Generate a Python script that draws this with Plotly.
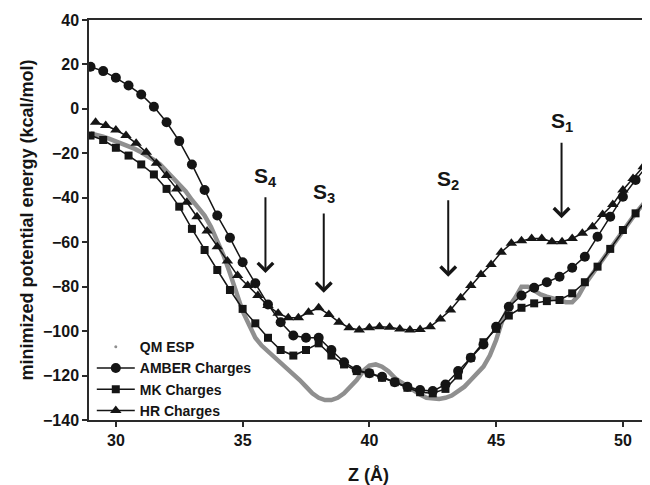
import plotly.graph_objects as go

# ---------------- data ----------------
z_amber = [29 + 0.5 * i for i in range(45)]
amber = [19, 17, 14, 10.5, 6.5, 1, -6, -14.5, -25, -36.5, -48, -58, -69, -78.5, -88,
         -96, -102, -103, -103, -108.5, -114, -117.5, -119, -120.5, -123, -125, -126.5,
         -127, -124, -118, -112, -106, -98, -89, -84, -80.5, -78, -75.5, -71.5, -66.5,
         -57.5, -48.5, -39.5, -32, -25]

z_mk = [29 + 0.5 * i for i in range(45)]
mk = [-12, -14, -17.5, -21, -25, -29.5, -36, -44, -54, -63.5, -72.5, -81.5, -90, -96.5,
      -103, -108.5, -111, -108.5, -105.5, -111, -115, -118, -119, -121, -123, -125.5,
      -127.5, -128, -126, -120, -112, -105, -99, -93, -89.5, -87.5, -86.5, -86, -83,
      -78, -71, -63, -54.5, -47, -40]

z_hr = [round(29.2 + 0.4 * i, 2) for i in range(55)]
hr = [-6, -7.5, -9.5, -12, -15.5, -19.5, -24.5, -30, -36, -42, -48.5, -55, -62, -68.5,
      -75, -79.5, -84, -88.5, -92, -94, -94, -91.5, -89.5, -92.5, -96, -98.5, -99.5,
      -98.5, -98, -98.3, -99, -99.5, -99.3, -98, -94.5, -90.5, -85, -79.5, -74.5, -70,
      -64.5, -60.5, -59.3, -58.3, -58.3, -59.8, -59.8, -58.3, -56, -53, -47.5, -43,
      -36.5, -31.3, -26]

z_qm = [29 + 0.25 * i for i in range(89)]
qm = [-11, -11.5, -12.5, -13.5, -14.5, -15.5, -16.5, -18, -19.5, -21, -23, -25, -28,
      -31, -34, -37, -41, -44.5, -48, -53, -59, -66, -74, -82, -91, -97, -103, -106.5,
      -109, -112, -114.5, -117, -119.5, -122, -125, -128, -130, -131, -131, -130, -128,
      -125, -122, -118, -115.5, -115, -116, -118, -121, -123, -125, -127, -128.5, -130,
      -130.5, -130.5, -130, -129, -127, -125, -122, -119, -116, -111, -104, -95, -89,
      -85, -80, -80, -82, -83.5, -84.5, -85.5, -86.5, -87, -87, -84, -79, -75, -71, -67,
      -63, -58.5, -54.5, -51, -47, -43.5, -40]

series_names = ["QM ESP", "AMBER Charges", "MK Charges", "HR Charges"]
site_labels = ["S<sub>1</sub>", "S<sub>2</sub>", "S<sub>3</sub>", "S<sub>4</sub>"]
x_ticks = [30, 35, 40, 45, 50]
y_ticks = [-140, -120, -100, -80, -60, -40, -20, 0, 20, 40]

# ---------------- figure ----------------
FONT = "Arial, Liberation Sans, sans-serif"
BLACK = "#151515"
GRAY = "#8f8f8f"

fig = go.Figure()

fig.add_trace(go.Scatter(x=z_qm, y=qm, mode="lines", showlegend=False,
                         line=dict(color=GRAY, width=4.5), hoverinfo="skip"))
fig.add_trace(go.Scatter(x=[None], y=[None], mode="markers", name=series_names[0],
                         marker=dict(color=GRAY, size=3, symbol="circle")))
fig.add_trace(go.Scatter(x=z_amber, y=amber, mode="lines+markers", name=series_names[1],
                         line=dict(color=BLACK, width=1.5),
                         marker=dict(color=BLACK, size=10, symbol="circle")))
fig.add_trace(go.Scatter(x=z_mk, y=mk, mode="lines+markers", name=series_names[2],
                         line=dict(color=BLACK, width=1.5),
                         marker=dict(color=BLACK, size=8, symbol="square")))
fig.add_trace(go.Scatter(x=z_hr, y=hr, mode="lines+markers", name=series_names[3],
                         line=dict(color=BLACK, width=1.5),
                         marker=dict(color=BLACK, size=10, symbol="triangle-up")))

# site labels with arrows: (arrow x, label centre y, arrow tip y)
site_pos = [(47.58, -6.0, -49.2), (43.11, -31.9, -75.5), (38.2, -37.8, -82.7), (35.9, -30.5, -73.9)]
for lab, (sx, ly, tip) in zip(site_labels, site_pos):
    fig.add_annotation(x=sx, y=tip, ax=sx, ay=ly, axref="x", ayref="y", xref="x", yref="y",
                       text=lab, showarrow=True, arrowhead=4, arrowsize=1.5, arrowwidth=2,
                       arrowcolor=BLACK, startstandoff=6,
                       font=dict(family=FONT, size=21, color=BLACK, weight="bold"))

axis_common = dict(showgrid=False, zeroline=False, showline=True, linecolor="#2a2a2a",
                   linewidth=1.5, mirror=True, ticks="outside", ticklen=5, tickwidth=1.5,
                   tickcolor="#2a2a2a",
                   tickfont=dict(family=FONT, size=16, color=BLACK, weight="bold"))

fig.update_xaxes(range=[28.94, 50.99], tickvals=x_ticks,
                 title=dict(text="Z (Å)", font=dict(family=FONT, size=18, color=BLACK, weight="bold"),
                            standoff=20),
                 **axis_common)
fig.update_yaxes(range=[-140, 40], tickvals=y_ticks,
                 title=dict(text="minimized potential energy (kcal/mol)",
                            font=dict(family=FONT, size=18, color=BLACK, weight="bold"),
                            standoff=5),
                 **axis_common)

# the page body adds an 8 px margin, so the figure is 8 px smaller than the window
fig.update_layout(
    width=642, height=477,
    margin=dict(l=81, r=2, t=12, b=65, autoexpand=False),
    paper_bgcolor="white", plot_bgcolor="white",
    showlegend=True,
    legend=dict(x=0.005, y=0.222, xanchor="left", yanchor="top", bgcolor="rgba(0,0,0,0)",
                font=dict(family=FONT, size=14, color=BLACK, weight="bold"),
                tracegroupgap=0, itemwidth=38),
)

fig.write_html("out.html")
